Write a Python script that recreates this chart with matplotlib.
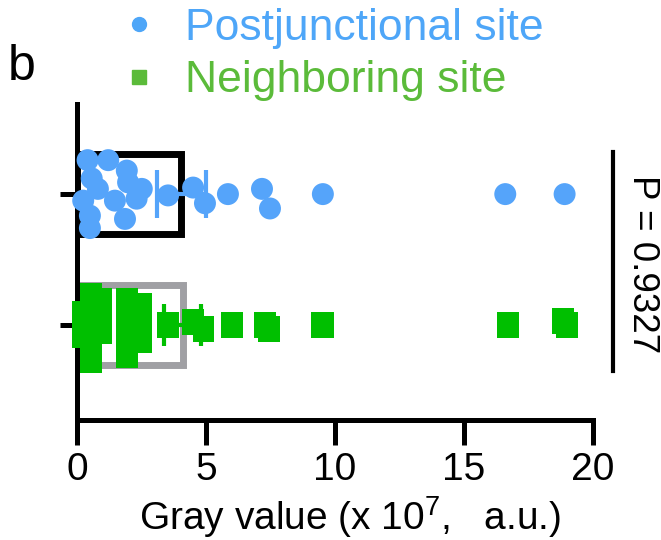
import numpy as np
import matplotlib
matplotlib.use("Agg")
import matplotlib.pyplot as plt
from matplotlib.lines import Line2D

plt.rcParams["font.family"] = ["Liberation Sans", "DejaVu Sans"]
plt.rcParams["mathtext.fontset"] = "custom"
plt.rcParams["mathtext.rm"] = "Liberation Sans"
plt.rcParams["mathtext.it"] = "Liberation Sans"

# values (x 10^7 a.u.)
post_vals = [0.41, 1.21, 1.93, 0.57, 2.51, 0.24, 1.47, 2.31, 0.50, 1.86, 0.50,
             0.81, 1.98, 3.53, 4.50, 4.96, 5.85, 7.17, 7.48, 9.53, 16.6, 18.9]
post_jitter = [0.26, 0.26, 0.18, 0.12, 0.04, -0.05, -0.05, -0.035, -0.165, -0.19, -0.26,
               0.04, 0.09, -0.01, 0.05, -0.07, 0.0, 0.04, -0.11, 0.0, 0.0, 0.0]
neigh_vals = [0.54, 0.54, 0.54, 0.54, 0.54, 0.23, 0.23, 0.93, 0.93, 0.93,
              1.94, 1.94, 1.94, 1.94, 2.48, 2.48, 2.48,
              3.53, 4.5, 4.9, 6.0, 7.3, 7.45, 9.55, 9.5, 16.7, 19.0, 18.85]
neigh_jitter = [0.22, 0.09, -0.03, -0.16, -0.27, 0.08, -0.08, 0.18, 0.05, -0.05,
                0.18, 0.03, -0.12, -0.23, 0.14, 0.0, -0.115,
                0.0, 0.02, -0.03, 0.0, 0.0, -0.03, 0.0, 0.0, 0.0, 0.0, 0.03]
post_mean, post_sem = 4.05, 0.94
neigh_mean, neigh_sem = 4.1, 0.71
p_value = "P = 0.9327"

blue = "#55a4fa"
green = "#00bf00"
blue_leg = "#4ea6f8"
green_leg = "#5bbb3a"

fig = plt.figure(figsize=(6.61, 5.40), dpi=100)
ax = fig.add_axes([0.1165, 0.2222, 0.7806, 0.5852])

ax.barh([1, 0], [post_mean, neigh_mean], height=0.61, fill=False,
        edgecolor=["black", "#a0a0a4"], linewidth=5, zorder=1)

ax.scatter(post_vals, 1 + np.array(post_jitter), s=250, color=blue,
           edgecolors="none", zorder=3, clip_on=False)
sq = [(-0.42, -0.5), (0.42, -0.5), (0.42, 0.5), (-0.42, 0.5)]
ax.scatter(neigh_vals, np.array(neigh_jitter), s=350, marker=sq, color=green,
           edgecolors="none", zorder=3, clip_on=False)

ax.errorbar(post_mean, 1, xerr=post_sem, fmt="none", ecolor=blue,
            elinewidth=3, capsize=17, capthick=3, zorder=4)
ax.errorbar(neigh_mean, 0, xerr=neigh_sem, fmt="none", ecolor=green,
            elinewidth=3, capsize=15, capthick=3, zorder=4)

# significance bracket
ax.plot([20.78, 20.78], [-0.354, 1.323], color="black", lw=3, clip_on=False)
ax.text(21.9, 0.46, p_value, rotation=-90, ha="center", va="center", fontsize=26.5)

ax.set_xlim(0, 20)
ax.set_ylim(-0.73, 1.69)
ax.set_xticks([0, 5, 10, 15, 20])
ax.set_yticks([0, 1])
ax.set_yticklabels([])
ax.spines["top"].set_visible(False)
ax.spines["right"].set_visible(False)
ax.spines["left"].set_linewidth(3.6)
ax.spines["bottom"].set_linewidth(3.6)
ax.tick_params(axis="x", length=18, width=3.6, labelsize=28, pad=5)
ax.tick_params(axis="y", length=12, width=3.6)
ax.set_xlabel("Gray value (x 10$^{7}$,   a.u.)", fontsize=28)
ax.xaxis.set_label_coords(0.529, -0.236)

handles = [
    Line2D([], [], marker="o", linestyle="none", markersize=10, color=blue_leg),
    Line2D([], [], marker="s", linestyle="none", markersize=10, color=green_leg),
]
fig.legend(handles, ["Postjunctional site", "Neighboring site"],
           loc="upper left", bbox_to_anchor=(0.147, 1.043), frameon=False,
           fontsize=32, labelcolor=[blue_leg, green_leg], handlelength=0.5,
           handletextpad=0.77, labelspacing=0.26, borderpad=0.2)

fig.text(0.012, 0.852, "b", fontsize=36)

fig.savefig("out.png", dpi=100)
